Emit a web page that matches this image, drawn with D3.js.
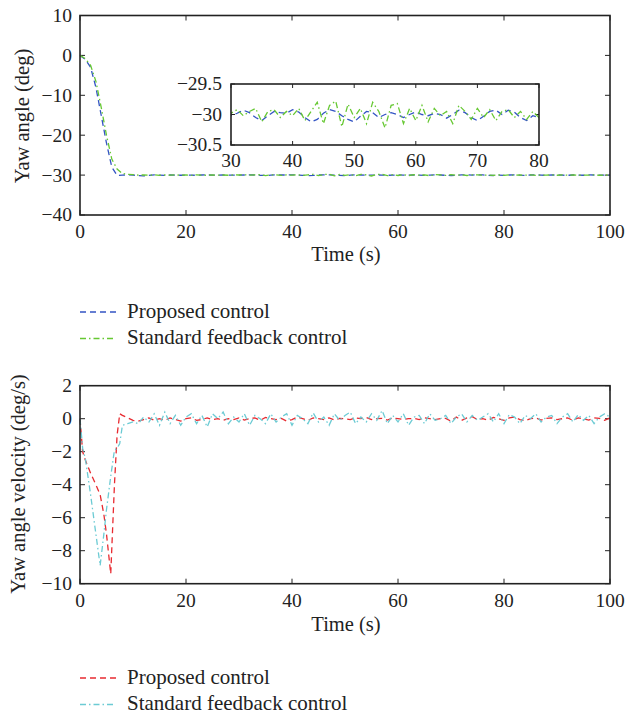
<!DOCTYPE html>
<html lang="en">
<head>
    <meta charset="UTF-8">
    <title>Yaw angle and yaw angle velocity</title>
    <script src="https://d3js.org/d3.v7.min.js"></script>
    <style>
        body, html {
            margin: 0;
            background-color: #ffffff;
        }
        svg text {
            font-family: 'Liberation Serif', 'DejaVu Serif', serif;
            fill: #222;
        }
    </style>
</head>
<body>
<svg id="chart" width="626" height="716"></svg>

<script>
    // yaw angle (deg), sampled every second
    const timeAngle = [0,1,2,3,4,5,6,7,8,9,10,11,12,13,14,15,16,17,18,19,20,21,22,23,24,25,26,27,28,29,
        30,31,32,33,34,35,36,37,38,39,40,41,42,43,44,45,46,47,48,49,50,51,52,53,54,55,56,57,58,59,
        60,61,62,63,64,65,66,67,68,69,70,71,72,73,74,75,76,77,78,79,80,81,82,83,84,85,86,87,88,89,
        90,91,92,93,94,95,96,97,98,99,100];
    const angleProposed = [0,-1,-3,-8,-15,-22,-28,-30.1,-30.0,-29.95,-30.0,-30.1,-30.2,-30.05,-29.95,-30.0,-30.05,-29.98,-30.0,-30.04,
        -29.97,-30.02,-30.05,-29.98,-29.95,-30.02,-30.04,-29.98,-30.0,-30.03,
        -30.02,-29.98,-29.93,-29.97,-30.05,-30.1,-30.02,-29.95,-29.97,-29.98,-29.92,-29.96,-30.05,-30.12,-30.08,-29.98,-29.92,-29.95,-30.02,-30.08,
        -30.12,-30.03,-29.95,-29.97,-30.05,-30.0,-29.97,-30.0,-30.05,-30.0,-29.96,-30.0,-30.02,-29.98,-30.0,-30.06,-30.0,-29.93,-29.97,-30.05,
        -30.1,-30.03,-29.95,-29.93,-30.0,-29.93,-29.96,-30.05,-30.1,-30.02,-30.05,-29.98,-29.95,-30.03,-30.06,-29.97,-29.94,-30.02,-30.05,-29.98,
        -29.96,-30.03,-30.05,-29.97,-30.0,-30.04,-29.96,-29.98,-30.03,-30.0,-30.02];
    const angleStandard = [0,-0.8,-2.5,-6.5,-13,-20,-26,-28.5,-29.6,-29.8,-29.9,-30.0,-29.95,-30.05,-29.92,-30.05,-29.97,-30.03,-29.95,-30.02,
        -29.98,-30.06,-29.93,-30.02,-30.05,-29.95,-30.03,-29.97,-30.04,-29.96,
        -29.98,-29.92,-30.02,-29.95,-29.9,-30.12,-29.95,-29.92,-30.05,-29.95,-30.02,-29.9,-30.1,-29.95,-29.8,-30.15,-29.85,-29.78,-30.2,-29.83,
        -30.05,-29.9,-30.15,-29.8,-29.95,-30.22,-29.85,-29.82,-30.15,-29.9,-30.1,-29.85,-30.12,-29.9,-30.02,-29.95,-30.15,-29.85,-29.95,-30.08,
        -29.9,-30.05,-29.92,-30.1,-29.95,-29.92,-30.05,-29.95,-30.08,-29.95,-30.05,-29.92,-30.06,-29.96,-30.03,-29.93,-30.05,-29.97,-30.02,-29.94,
        -30.04,-29.96,-30.03,-29.95,-30.05,-29.98,-30.02,-29.94,-30.04,-29.97,-30.0];

    // yaw angle velocity (deg/s): denser samples during the first 10 s
    const timeVelocity = [0,0.5,1,2,3,3.8,4.5,5,5.8,6.5,7,7.5,8,9,
        10,11,12,13,14,15,16,17,18,19,
        20,21,22,23,24,25,26,27,28,29,
        30,31,32,33,34,35,36,37,38,39,
        40,41,42,43,44,45,46,47,48,49,
        50,51,52,53,54,55,56,57,58,59,
        60,61,62,63,64,65,66,67,68,69,
        70,71,72,73,74,75,76,77,78,79,
        80,81,82,83,84,85,86,87,88,89,
        90,91,92,93,94,95,96,97,98,99,
        100];
    const velocityProposed = [0,-2,-2.5,-3.3,-4.0,-4.6,-5.8,-7,-9.4,-4,-1,0.3,0.2,0.05,
        -0.1,-0.15,-0.05,0.05,-0.1,0.0,-0.1,0.05,-0.05,-0.15,
        0.0,0.05,-0.1,-0.05,0.05,-0.05,0.0,-0.1,0.0,-0.05,
        0.05,-0.08,0.0,0.05,-0.1,0.08,0.0,-0.05,0.02,-0.15,
        -0.05,0.1,0.0,-0.1,0.05,0.0,-0.05,0.05,-0.08,0.02,
        0.0,-0.05,0.05,0.0,0.08,-0.05,0.0,0.02,-0.08,0.05,
        0.0,-0.05,0.0,0.02,-0.05,0.05,0.0,-0.05,0.0,0.02,
        -0.15,0.1,-0.1,0.05,0.12,-0.05,0.0,-0.1,0.08,0.0,
        -0.1,0.05,0.1,-0.05,-0.12,0.0,0.05,-0.08,0.02,0.05,
        -0.05,0.0,0.05,-0.1,0.05,0.0,-0.08,0.05,0.02,-0.1,
        0.05];
    const velocityStandard = [0,-1.8,-2.4,-4.6,-7,-8.9,-7,-5.5,-3.5,-1.9,-1.8,-1.5,-0.4,-0.3,
        -0.2,-0.3,0.1,-0.2,0.3,-0.4,0.4,-0.3,0.2,-0.4,
        0.1,0.3,-0.3,0.2,-0.5,0.3,0.0,0.4,-0.3,0.1,
        -0.2,0.3,-0.4,0.2,0.0,-0.3,0.3,-0.2,0.1,0.3,
        -0.4,0.2,0.0,-0.3,0.35,-0.2,0.1,-0.4,0.3,-0.1,
        0.2,0.4,-0.3,0.1,-0.2,0.3,-0.1,0.5,-0.3,0.2,
        -0.2,0.3,-0.4,0.1,0.2,-0.3,0.3,-0.1,0.0,0.2,
        -0.3,0.1,0.3,-0.2,0.2,-0.1,0.1,0.3,-0.2,0.3,
        -0.3,0.25,0.1,-0.3,0.2,0.0,0.3,-0.2,0.1,0.2,
        -0.3,0.1,0.3,-0.2,0.25,-0.1,0.2,-0.3,0.1,0.3,
        0.1];

    const angleTicks = [10, 0, -10, -20, -30, -40];
    const velocityTicks = [2, 0, -2, -4, -6, -8, -10];
    const timeTicks = [0, 20, 40, 60, 80, 100];
    const insetTimeTicks = [30, 40, 50, 60, 70, 80];
    const insetAngleTicks = [-29.5, -30, -30.5];
    const legendLabels = ['Proposed control', 'Standard feedback control'];

    const svg = d3.select('#chart');
    const left = 80, right = 610;
    const dashed = '6,4';
    const dashDot = '6,3,1.5,3';

    const fmt = d => (d < 0 ? '\u2212' + Math.abs(d) : String(d));

    function drawBox(g, x, y, xTicks, yTicks, tickLen, fontSize, labelGap) {
        const [x0, x1] = x.range();
        const [y0, y1] = y.range();
        // ticks on all four sides, pointing inward
        xTicks.forEach(t => {
            g.append('line').attr('x1', x(t)).attr('x2', x(t)).attr('y1', y0).attr('y2', y0 - tickLen)
                .attr('stroke', '#222').attr('stroke-width', 1);
            g.append('line').attr('x1', x(t)).attr('x2', x(t)).attr('y1', y1).attr('y2', y1 + tickLen)
                .attr('stroke', '#222').attr('stroke-width', 1);
            g.append('text').attr('x', x(t)).attr('y', y0 + labelGap.x)
                .attr('text-anchor', 'middle').style('font-size', fontSize + 'px').text(fmt(t));
        });
        yTicks.forEach(t => {
            g.append('line').attr('x1', x0).attr('x2', x0 + tickLen).attr('y1', y(t)).attr('y2', y(t))
                .attr('stroke', '#222').attr('stroke-width', 1);
            g.append('line').attr('x1', x1).attr('x2', x1 - tickLen).attr('y1', y(t)).attr('y2', y(t))
                .attr('stroke', '#222').attr('stroke-width', 1);
            g.append('text').attr('x', x0 - labelGap.y).attr('y', y(t) + fontSize * 0.33)
                .attr('text-anchor', 'end').style('font-size', fontSize + 'px').text(fmt(t));
        });
    }

    function frame(g, x, y) {
        const [x0, x1] = x.range();
        const [y0, y1] = y.range();
        g.append('rect').attr('x', x0).attr('y', y1).attr('width', x1 - x0).attr('height', y0 - y1)
            .attr('fill', 'none').attr('stroke', '#222').attr('stroke-width', 1.6);
    }

    function series(g, x, y, times, values, color, dash, clipId) {
        const line = d3.line().x((d, i) => x(times[i])).y(d => y(d));
        const p = g.append('path').datum(values).attr('d', line)
            .attr('fill', 'none').attr('stroke', color).attr('stroke-width', 1.3)
            .attr('stroke-dasharray', dash);
        if (clipId) p.attr('clip-path', `url(#${clipId})`);
    }

    function legend(top, colors) {
        legendLabels.forEach((label, i) => {
            const yy = top + i * 26.5;
            svg.append('line').attr('x1', 80).attr('x2', 116).attr('y1', yy).attr('y2', yy)
                .attr('stroke', colors[i]).attr('stroke-width', 1.3)
                .attr('stroke-dasharray', i === 0 ? dashed : dashDot);
            svg.append('text').attr('x', 127).attr('y', yy + 5.5)
                .style('font-size', '21px').text(label);
        });
    }

    const defs = svg.append('defs');

    // ---- top plot: yaw angle ----
    const xA = d3.scaleLinear().domain([0, 100]).range([left, right]);
    const yA = d3.scaleLinear().domain([-40, 10]).range([215, 15.5]);
    const gA = svg.append('g');
    drawBox(gA, xA, yA, timeTicks, angleTicks, 5, 19.5, {x: 23, y: 8});
    series(gA, xA, yA, timeAngle, angleProposed, '#3354c4', dashed);
    series(gA, xA, yA, timeAngle, angleStandard, '#66c832', dashDot);
    frame(gA, xA, yA);

    // inset zoom of 30-80 s
    const xI = d3.scaleLinear().domain([30, 80]).range([231, 539]);
    const yI = d3.scaleLinear().domain([-30.5, -29.5]).range([145, 84]);
    defs.append('clipPath').attr('id', 'insetClip').append('rect')
        .attr('x', 231).attr('y', 84).attr('width', 308).attr('height', 61);
    const gI = svg.append('g');
    gI.append('rect').attr('x', 231).attr('y', 84).attr('width', 308).attr('height', 61).attr('fill', '#fff');
    drawBox(gI, xI, yI, insetTimeTicks, insetAngleTicks, 4, 19.5, {x: 22, y: 9});
    series(gI, xI, yI, timeAngle, angleProposed, '#3354c4', dashed, 'insetClip');
    series(gI, xI, yI, timeAngle, angleStandard, '#66c832', dashDot, 'insetClip');
    frame(gI, xI, yI);

    svg.append('text').attr('transform', 'translate(29,116) rotate(-90)')
        .attr('text-anchor', 'middle').style('font-size', '20.5px').text('Yaw angle (deg)');
    svg.append('text').attr('x', 346).attr('y', 261)
        .attr('text-anchor', 'middle').style('font-size', '20.5px').text('Time (s)');
    legend(312, ['#3354c4', '#66c832']);

    // ---- bottom plot: yaw angle velocity ----
    const xV = d3.scaleLinear().domain([0, 100]).range([left, right]);
    const yV = d3.scaleLinear().domain([-10, 2]).range([583.7, 385.7]);
    const gV = svg.append('g');
    drawBox(gV, xV, yV, timeTicks, velocityTicks, 5, 19.5, {x: 23, y: 8});
    series(gV, xV, yV, timeVelocity, velocityProposed, '#e82a30', dashed);
    series(gV, xV, yV, timeVelocity, velocityStandard, '#6ccbd4', dashDot);
    frame(gV, xV, yV);

    svg.append('text').attr('transform', 'translate(25,484) rotate(-90)')
        .attr('text-anchor', 'middle').style('font-size', '20.5px').text('Yaw angle velocity (deg/s)');
    svg.append('text').attr('x', 346).attr('y', 631)
        .attr('text-anchor', 'middle').style('font-size', '20.5px').text('Time (s)');
    legend(678, ['#e82a30', '#6ccbd4']);
</script>
</body>
</html>
